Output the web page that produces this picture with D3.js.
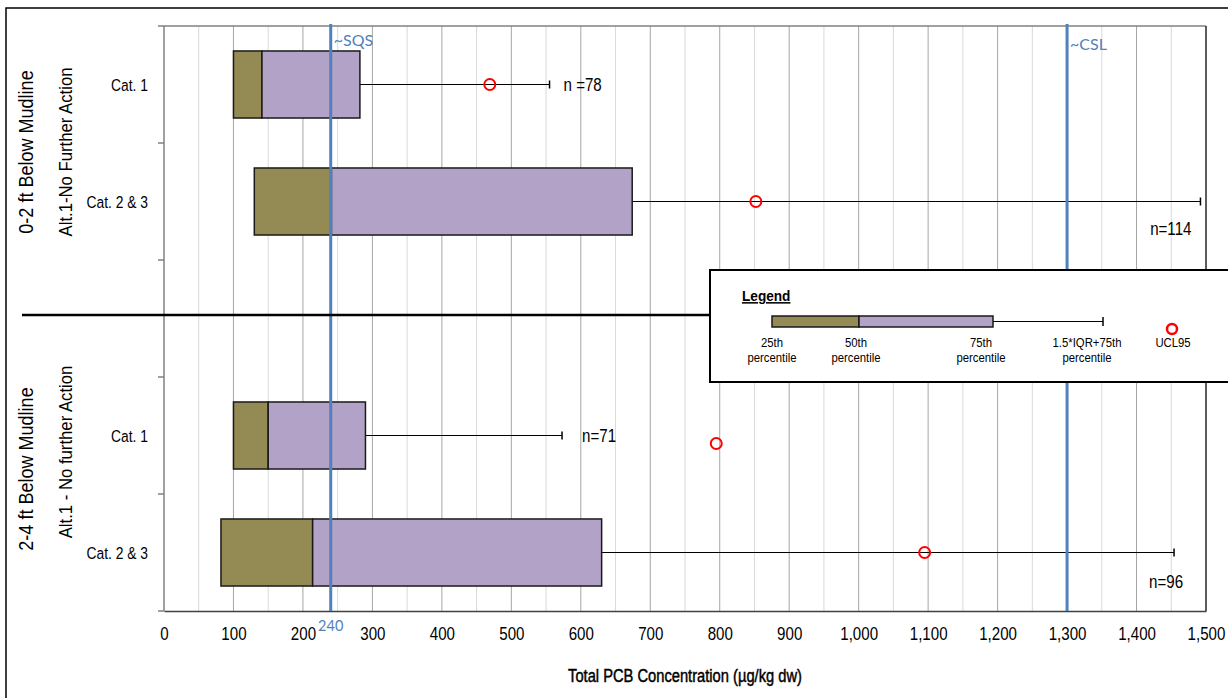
<!DOCTYPE html>
<html>
<head>
<meta charset="utf-8">
<script src="https://cdn.jsdelivr.net/npm/d3@7/dist/d3.min.js"></script>
<style>
  html, body { margin: 0; padding: 0; background: #fff; }
  svg { display: block; }
  text { font-family: "Liberation Sans", Arial, sans-serif; }
  .ref { font-family: Lato, "Open Sans", sans-serif; }
</style>
</head>
<body>
<svg id="chart" width="1228" height="698"></svg>
<script>
// Total PCB concentration summary, two depth intervals, by category
const slots       = ["top-1", "top-23", "gap", "bot-1", "bot-23"];
const boxSlots    = ["top-1", "top-23", "bot-1", "bot-23"];
const categories  = ["Cat. 1", "Cat. 2 & 3", "Cat. 1", "Cat. 2 & 3"];
const p25         = [100, 130, 100, 82];
const p50         = [141, 241, 150, 214];
const p75         = [282, 674, 290, 630];
const whiskerHigh = [555, 1492, 573, 1454];
const ucl95       = [469, 852, 795, 1095];
const nLabels     = ["n =78", "n=114", "n=71", "n=96"];

const xTicks      = d3.range(0, 1501, 100);
const minorTicks  = d3.range(50, 1500, 100);
const refValues   = [240, 1300];
const refLabels   = ["~SQS", "~CSL"];

const groupTitles = ["0-2 ft Below Mudline", "2-4 ft Below Mudline"];
const groupAlts   = ["Alt.1-No Further Action", "Alt.1 - No further Action"];

const COL_LOW = "#948A54", COL_HIGH = "#B3A2C7", COL_REF = "#4F81BD", COL_UCL = "#FF0000";
const NARROW = 0.84;   // horizontal squeeze for a narrow sans look

const svg = d3.select("#chart");
const plot = { left: 164, right: 1206, top: 26, bottom: 611 };

// text placed at (x,y), optionally rotated, squeezed along its baseline
function label(parent, x, y, str, o = {}) {
  const rot = o.rotate ? ` rotate(${o.rotate})` : "";
  return parent.append("text")
    .attr("transform", `translate(${x},${y})${rot} scale(${o.squeeze ?? NARROW},1)`)
    .attr("text-anchor", o.anchor || "start")
    .attr("font-size", o.size || 16)
    .attr("font-weight", o.weight || "normal")
    .attr("fill", o.fill || "#000")
    .text(str);
}

const x = d3.scaleLinear().domain([0, 1500]).range([plot.left, plot.right]);
const pad = 0.427;
const y = d3.scaleBand().domain(slots).range([plot.top, plot.bottom])
  .paddingInner(pad).paddingOuter(pad / 2);
const bw = y.bandwidth();
const yc = s => y(s) + bw / 2;

// outer frame
svg.append("path").attr("d", "M6,710 V8 H1240")
  .attr("fill", "none").attr("stroke", "#000").attr("stroke-width", 1.5);

// grid
const g = svg.append("g");
g.selectAll(".minor").data(minorTicks).join("line")
  .attr("x1", d => x(d)).attr("x2", d => x(d))
  .attr("y1", plot.top).attr("y2", plot.bottom)
  .attr("stroke", "#D9D9D9").attr("stroke-width", 1);
g.selectAll(".major").data(xTicks.slice(1, -1)).join("line")
  .attr("x1", d => x(d)).attr("x2", d => x(d))
  .attr("y1", plot.top).attr("y2", plot.bottom)
  .attr("stroke", "#A6A6A6").attr("stroke-width", 1);
g.append("line").attr("x1", plot.left).attr("x2", plot.right)
  .attr("y1", plot.top).attr("y2", plot.top)
  .attr("stroke", "#808080").attr("stroke-width", 1.5);
g.append("line").attr("x1", plot.right).attr("x2", plot.right)
  .attr("y1", plot.top).attr("y2", plot.bottom)
  .attr("stroke", "#262626").attr("stroke-width", 1.5);

// left axis with ticks at slot boundaries
const bounds = slots.map(s => y(s) - y.step() * pad / 2).concat([plot.bottom]);
g.append("line").attr("x1", plot.left).attr("x2", plot.left)
  .attr("y1", plot.top).attr("y2", plot.bottom)
  .attr("stroke", "#808080").attr("stroke-width", 1.5);
g.selectAll(".ytick").data(bounds).join("line")
  .attr("x1", plot.left - 6).attr("x2", plot.left)
  .attr("y1", d => d).attr("y2", d => d)
  .attr("stroke", "#808080").attr("stroke-width", 1.5);

// bottom axis
const xAxis = d3.axisBottom(x).tickValues(xTicks).tickSize(0).tickPadding(16)
  .tickFormat(d3.format(","));
const ax = svg.append("g").attr("transform", `translate(0,${plot.bottom})`).call(xAxis);
ax.select(".domain").attr("stroke", "#404040").attr("stroke-width", 1.5);
ax.selectAll("text")
  .attr("font-family", "'Liberation Sans', Arial, sans-serif")
  .attr("font-size", 18).attr("fill", "#000")
  .attr("transform", `scale(${NARROW},1)`);

label(svg, (plot.left + plot.right) / 2, 682, "Total PCB Concentration (\u00B5g/kg dw)",
  { anchor: "middle", size: 17.5, fill: "#000" })
  .attr("stroke", "#000").attr("stroke-width", 0.45);

// whiskers
const rows = boxSlots.map((s, i) => ({ s, i }));
const bx = svg.append("g");
bx.selectAll(".whisk").data(rows).join("line")
  .attr("x1", d => x(p75[d.i])).attr("x2", d => x(whiskerHigh[d.i]))
  .attr("y1", d => yc(d.s)).attr("y2", d => yc(d.s))
  .attr("stroke", "#000").attr("stroke-width", 1);
bx.selectAll(".cap").data(rows).join("line")
  .attr("x1", d => x(whiskerHigh[d.i])).attr("x2", d => x(whiskerHigh[d.i]))
  .attr("y1", d => yc(d.s) - 4).attr("y2", d => yc(d.s) + 4)
  .attr("stroke", "#000").attr("stroke-width", 1.5);

// boxes: 25th-50th and 50th-75th
bx.selectAll(".low").data(rows).join("rect")
  .attr("x", d => x(p25[d.i])).attr("width", d => x(p50[d.i]) - x(p25[d.i]))
  .attr("y", d => y(d.s)).attr("height", bw)
  .attr("fill", COL_LOW).attr("stroke", "#1a1a1a").attr("stroke-width", 1.5);
bx.selectAll(".high").data(rows).join("rect")
  .attr("x", d => x(p50[d.i])).attr("width", d => x(p75[d.i]) - x(p50[d.i]))
  .attr("y", d => y(d.s)).attr("height", bw)
  .attr("fill", COL_HIGH).attr("stroke", "#1a1a1a").attr("stroke-width", 1.5);

// reference lines
svg.selectAll(".refline").data(refValues).join("line")
  .attr("x1", d => x(d)).attr("x2", d => x(d))
  .attr("y1", plot.top - 2).attr("y2", plot.bottom)
  .attr("stroke", COL_REF).attr("stroke-width", 3);
svg.selectAll(".reflab").data(refValues).join("text").attr("class", "ref")
  .attr("x", d => x(d) + 3).attr("y", (d, i) => i === 0 ? 46 : 50)
  .attr("font-size", 16).attr("fill", COL_REF)
  .text((d, i) => refLabels[i]);
svg.append("text").attr("class", "ref")
  .attr("x", x(refValues[0])).attr("y", 631)
  .attr("text-anchor", "middle").attr("font-size", 14.5).attr("fill", COL_REF)
  .text(refValues[0]);

// UCL95 markers
bx.selectAll(".ucl").data(rows).join("circle")
  .attr("cx", d => x(ucl95[d.i]))
  .attr("cy", d => d.i === 2 ? yc(d.s) + 8 : yc(d.s))
  .attr("r", 5.5).attr("fill", "none").attr("stroke", COL_UCL).attr("stroke-width", 2);

// sample counts: beside the whisker cap for Cat. 1, under it for Cat. 2 & 3
const nOffsets = [[14, 6, "start"], [-9, 33, "end"], [20, 6, "start"], [9, 35, "end"]];
rows.forEach(d => {
  const [dx, dy, anchor] = nOffsets[d.i];
  label(svg, x(whiskerHigh[d.i]) + dx, yc(d.s) + dy, nLabels[d.i], { anchor, size: 18 });
});

// category labels
rows.forEach(d => label(svg, 148, yc(d.s) + 6, categories[d.i], { anchor: "end", size: 16.5 }));

// group labels (rotated)
const groupCenters = [[152, 152], [469, 452]];
groupTitles.forEach((t, i) => {
  label(svg, 33, groupCenters[i][0], t, { rotate: -90, anchor: "middle", size: 20.5, squeeze: 0.88 });
  label(svg, 72, groupCenters[i][1], groupAlts[i], { rotate: -90, anchor: "middle", size: 19, squeeze: 0.88 });
});

// divider between depth groups
svg.append("line").attr("x1", 22).attr("x2", 1228).attr("y1", 315).attr("y2", 315)
  .attr("stroke", "#000").attr("stroke-width", 2.5);

// legend
const lg = svg.append("g");
lg.append("rect").attr("x", 710).attr("y", 270).attr("width", 540).attr("height", 112)
  .attr("fill", "#fff").attr("stroke", "#000").attr("stroke-width", 2);
label(lg, 742, 301, "Legend", { size: 15.5, weight: "bold", squeeze: 0.88 })
  .attr("text-decoration", "underline");
lg.append("line").attr("x1", 993).attr("x2", 1103).attr("y1", 321.5).attr("y2", 321.5)
  .attr("stroke", "#000").attr("stroke-width", 1);
lg.append("line").attr("x1", 1103).attr("x2", 1103).attr("y1", 317).attr("y2", 326)
  .attr("stroke", "#000").attr("stroke-width", 1.5);
lg.append("rect").attr("x", 772).attr("y", 316).attr("width", 859 - 772).attr("height", 11)
  .attr("fill", COL_LOW).attr("stroke", "#1a1a1a").attr("stroke-width", 1.5);
lg.append("rect").attr("x", 859).attr("y", 316).attr("width", 993 - 859).attr("height", 11)
  .attr("fill", COL_HIGH).attr("stroke", "#1a1a1a").attr("stroke-width", 1.5);
lg.append("circle").attr("cx", 1172).attr("cy", 329).attr("r", 5)
  .attr("fill", "none").attr("stroke", COL_UCL).attr("stroke-width", 2.5);
const legendLabels = [
  { x: 772, lines: ["25th", "percentile"] },
  { x: 856, lines: ["50th", "percentile"] },
  { x: 981, lines: ["75th", "percentile"] },
  { x: 1087, lines: ["1.5*IQR+75th", "percentile"] },
  { x: 1173, lines: ["UCL95"] }
];
legendLabels.forEach(l => {
  l.lines.forEach((t, j) => label(lg, l.x, 347 + j * 15, t, { anchor: "middle", size: 13.5 }));
});
</script>
</body>
</html>
